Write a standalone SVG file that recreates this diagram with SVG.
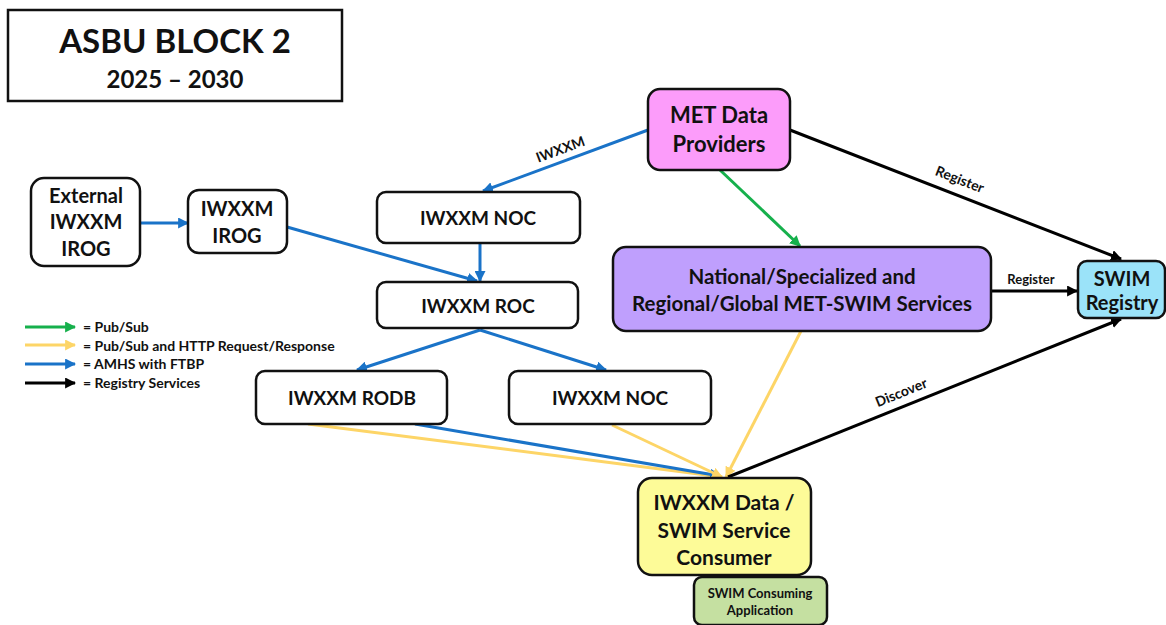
<svg xmlns="http://www.w3.org/2000/svg" width="1166" height="625" viewBox="0 0 1166 625">
<defs>
<style>
text{font-family:Lato,"Liberation Sans",sans-serif;font-weight:bold;fill:#111;text-anchor:middle}
.box{stroke:#111;stroke-width:2.5;fill:#fff}
.t19{font-size:19px}
.t21{font-size:21px}
.t13{font-size:13px}
.lg{font-size:14px;text-anchor:start}
.bl{stroke:#1a73c8;stroke-width:3;fill:none}
.gr{stroke:#16b04c;stroke-width:3;fill:none}
.ye{stroke:#fdd567;stroke-width:3;fill:none}
.bk{stroke:#000;stroke-width:3;fill:none}
</style>
<marker id="ab" viewBox="0 0 10 10" refX="9" refY="5" markerWidth="11" markerHeight="11" markerUnits="userSpaceOnUse" orient="auto"><path d="M0,0L10,5L0,10z" fill="#1a73c8"/></marker>
<marker id="ag" viewBox="0 0 10 10" refX="9" refY="5" markerWidth="11" markerHeight="11" markerUnits="userSpaceOnUse" orient="auto"><path d="M0,0L10,5L0,10z" fill="#16b04c"/></marker>
<marker id="ay" viewBox="0 0 10 10" refX="9" refY="5" markerWidth="11" markerHeight="11" markerUnits="userSpaceOnUse" orient="auto"><path d="M0,0L10,5L0,10z" fill="#fdd567"/></marker>
<marker id="ak" viewBox="0 0 10 10" refX="9" refY="5" markerWidth="11" markerHeight="11" markerUnits="userSpaceOnUse" orient="auto"><path d="M0,0L10,5L0,10z" fill="#000"/></marker>
</defs>
<rect width="1166" height="625" fill="#fff"/>

<g id="title">
<rect x="8" y="10" width="334" height="91" fill="#fff" stroke="#111" stroke-width="2.5"/>
<text x="175" y="53" style="font-size:33px">ASBU BLOCK 2</text>
<text x="175" y="88" style="font-size:24px">2025 – 2030</text>
</g>

<g id="legend">
<line x1="25" y1="327" x2="75" y2="327" class="gr" marker-end="url(#ag)"/>
<line x1="25" y1="345" x2="75" y2="345" class="ye" marker-end="url(#ay)"/>
<line x1="25" y1="364" x2="75" y2="364" class="bl" marker-end="url(#ab)"/>
<line x1="25" y1="383" x2="75" y2="383" class="bk" marker-end="url(#ak)"/>
<text x="83" y="332" class="lg">= Pub/Sub</text>
<text x="83" y="351" class="lg">= Pub/Sub and HTTP Request/Response</text>
<text x="83" y="369" class="lg">= AMHS with FTBP</text>
<text x="83" y="388" class="lg">= Registry Services</text>
</g>

<g id="connectors">
<line x1="140" y1="223" x2="188" y2="223" class="bl" marker-end="url(#ab)"/>
<line x1="287" y1="227" x2="477" y2="281" class="bl" marker-end="url(#ab)"/>
<line x1="480" y1="243" x2="480" y2="281" class="bl" marker-end="url(#ab)"/>
<line x1="648" y1="130" x2="483" y2="191" class="bl" marker-end="url(#ab)"/>
<text x="562" y="154" class="t13" style="font-size:14px" transform="rotate(-20.3 562 154)">IWXXM</text>
<line x1="720" y1="170" x2="800" y2="246" class="gr" marker-end="url(#ag)"/>
<line x1="480" y1="330" x2="357" y2="370" class="bl" marker-end="url(#ab)"/>
<line x1="480" y1="330" x2="606" y2="370" class="bl" marker-end="url(#ab)"/>
<line x1="308" y1="424" x2="722" y2="477" class="ye" marker-end="url(#ay)"/>
<line x1="415" y1="424" x2="720" y2="476" class="bl" marker-end="url(#ab)"/>
<line x1="612" y1="425" x2="722" y2="477" class="ye" marker-end="url(#ay)"/>
<line x1="801" y1="331" x2="726" y2="477" class="ye" marker-end="url(#ay)"/>
<line x1="790" y1="130" x2="1121" y2="259" class="bk" marker-end="url(#ak)"/>
<text x="958" y="184" class="t13" style="font-size:14px" transform="rotate(21.3 958 184)">Register</text>
<line x1="991" y1="291" x2="1077" y2="291" class="bk" marker-end="url(#ak)"/>
<text x="1031" y="284" class="t13">Register</text>
<line x1="728" y1="477" x2="1121" y2="319" class="bk" marker-end="url(#ak)"/>
<text x="903" y="397" class="t13" style="font-size:14px" transform="rotate(-21.9 903 397)">Discover</text>
</g>

<g id="ext-irog">
<rect x="31" y="178" width="109" height="88" rx="13" class="box"/>
<text x="86" y="203" class="t19" style="font-size:20px">External</text>
<text x="86" y="229" class="t19" style="font-size:20px">IWXXM</text>
<text x="86" y="256" class="t19" style="font-size:20px">IROG</text>
</g>
<g id="irog">
<rect x="188" y="190" width="99" height="63" rx="11" class="box"/>
<text x="237" y="216" class="t19" style="font-size:20px">IWXXM</text>
<text x="237" y="243" class="t19" style="font-size:20px">IROG</text>
</g>
<g id="noc1">
<rect x="377" y="192" width="203" height="51" rx="9" class="box"/>
<text x="478" y="225" class="t19">IWXXM NOC</text>
</g>
<g id="roc">
<rect x="377" y="282" width="201" height="46" rx="9" class="box"/>
<text x="478" y="313" class="t19">IWXXM ROC</text>
</g>
<g id="rodb">
<rect x="256" y="371" width="191" height="53" rx="9" class="box"/>
<text x="352" y="405" class="t19">IWXXM RODB</text>
</g>
<g id="noc2">
<rect x="509" y="371" width="202" height="53" rx="9" class="box"/>
<text x="610" y="405" class="t19">IWXXM NOC</text>
</g>
<g id="met">
<rect x="648" y="89" width="142" height="81" rx="12" class="box" style="fill:#fc9cfa"/>
<text x="719" y="123" style="font-size:22px">MET Data</text>
<text x="719" y="152" style="font-size:22px">Providers</text>
</g>
<g id="national">
<rect x="613" y="247" width="378" height="84" rx="13" class="box" style="fill:#bf9ffd"/>
<text x="802" y="284" style="font-size:20.5px">National/Specialized and</text>
<text x="802" y="311" style="font-size:20.5px">Regional/Global MET-SWIM Services</text>
</g>
<g id="registry">
<rect x="1078" y="261" width="87" height="57" rx="9" class="box" style="fill:#9be3f9"/>
<text x="1122" y="286" class="t19" style="font-size:20px">SWIM</text>
<text x="1122" y="310" class="t19" style="font-size:20px">Registry</text>
</g>
<g id="consumer">
<rect x="638" y="478" width="173" height="97" rx="14" class="box" style="fill:#fdfb98"/>
<text x="724" y="510" class="t21">IWXXM Data /</text>
<text x="724" y="538" class="t21">SWIM Service</text>
<text x="724" y="565" class="t21">Consumer</text>
</g>
<g id="app">
<rect x="694" y="577" width="133" height="48" rx="8" class="box" style="fill:#c5e0a1"/>
<text x="760" y="598" class="t13">SWIM Consuming</text>
<text x="760" y="615" class="t13">Application</text>
</g>
</svg>
